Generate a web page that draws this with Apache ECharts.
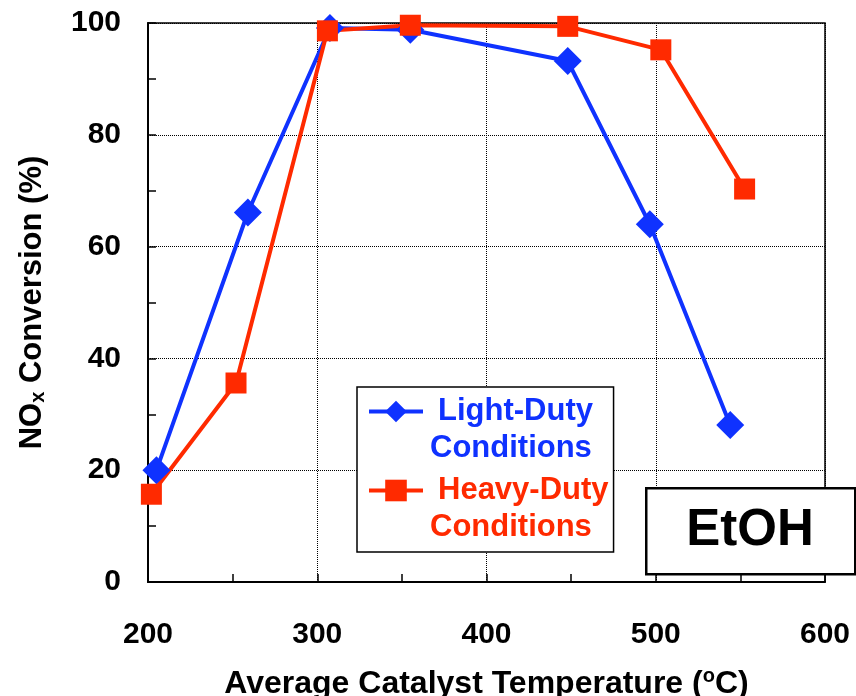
<!DOCTYPE html>
<html>
<head>
<meta charset="utf-8">
<script src="https://cdn.jsdelivr.net/npm/echarts@6/dist/echarts.min.js"></script>
<style>
  html, body { margin: 0; padding: 0; background: #fff; }
  #chart { width: 856px; height: 696px; }
</style>
</head>
<body>
<div id="chart"></div>
<script>
    // temperatures (°C) and NOx conversion (%)
    var lightTemp = [205, 259, 307.5, 355, 448, 496.5, 544];
    var lightConv = [20, 66.1, 99.1, 98.8, 93.2, 64.0, 28.1];
    var heavyTemp = [202, 252, 306, 355, 448, 503, 552.5];
    var heavyConv = [15.7, 35.6, 98.6, 99.6, 99.4, 95.2, 70.3];
    var seriesNames = ['Light-Duty', 'Heavy-Duty'];
    var blue = '#0f32ff';
    var red = '#ff2a00';
    var font = "'Liberation Sans', Arial, sans-serif";

    function pairs(xs, ys) {
        return xs.map(function (x, i) { return [x, ys[i]]; });
    }

    var myChart = echarts.init(document.getElementById('chart'), null, {renderer: 'canvas'});
    var option = {
        backgroundColor: '#fff',
        animation: false,
        grid: {
            left: 148, right: 31, top: 23, bottom: 114,
            outerBoundsMode: 'none', containLabel: false,
            show: true, borderColor: '#000', borderWidth: 1.5
        },
        legend: {
            orient: 'vertical',
            left: 357, top: 387,
            padding: [9, 5, 9, 10],
            itemGap: 11,
            itemWidth: 54, itemHeight: 27,
            borderColor: '#000', borderWidth: 1.5,
            backgroundColor: '#fff',
            lineStyle: {width: 4},
            data: seriesNames,
            formatter: function (name) {
                return '{a|' + name + '}\n{b|Conditions}';
            },
            textStyle: {
                color: 'inherit',
                fontFamily: font, fontWeight: 'bold', fontSize: 31,
                padding: [0, 0, -37, 0],
                rich: {
                    a: {fontFamily: font, fontWeight: 'bold', fontSize: 31, lineHeight: 37, padding: [0, 0, 0, 10], width: 168},
                    b: {fontFamily: font, fontWeight: 'bold', fontSize: 31, lineHeight: 37, padding: [0, 0, 0, 2], width: 176}
                }
            }
        },
        xAxis: {
            type: 'value', min: 200, max: 600, interval: 100,
            name: 'Average Catalyst Temperature ({sup|o}C)',
            nameLocation: 'middle', nameGap: 84,
            nameTextStyle: {
                fontFamily: font, fontWeight: 'bold', fontSize: 32, color: '#000',
                rich: {sup: {fontFamily: font, fontWeight: 'bold', fontSize: 20, verticalAlign: 'top', padding: [0, 0, 16, 0]}}
            },
            axisLine: {lineStyle: {color: '#000', width: 2}},
            axisTick: {inside: true, length: 8, lineStyle: {color: '#000', width: 1.5}},
            minorTick: {show: true, splitNumber: 2, length: 8, lineStyle: {color: '#000', width: 1.5}},
            axisLabel: {margin: 38, fontFamily: font, fontWeight: 'bold', fontSize: 30, color: '#000'},
            splitLine: {show: true, lineStyle: {color: '#000', type: 'dotted', width: 1}}
        },
        yAxis: {
            type: 'value', min: 0, max: 100, interval: 20,
            name: 'NO{sub|x} Conversion (%)',
            nameLocation: 'middle', nameGap: 100,
            nameTextStyle: {
                fontFamily: font, fontWeight: 'bold', fontSize: 31, color: '#000',
                rich: {sub: {fontFamily: font, fontWeight: 'bold', fontSize: 20, padding: [12, 0, 0, 0]}}
            },
            axisLine: {lineStyle: {color: '#000', width: 2}},
            axisTick: {inside: true, length: 8, lineStyle: {color: '#000', width: 1.5}},
            minorTick: {show: true, splitNumber: 2, length: 8, lineStyle: {color: '#000', width: 1.5}},
            axisLabel: {margin: 27, fontFamily: font, fontWeight: 'bold', fontSize: 30, color: '#000'},
            splitLine: {show: true, lineStyle: {color: '#000', type: 'dotted', width: 1}}
        },
        series: [
            {
                name: seriesNames[0], type: 'line',
                data: pairs(lightTemp, lightConv),
                symbol: 'diamond', symbolSize: 28,
                lineStyle: {color: blue, width: 4},
                itemStyle: {color: blue}
            },
            {
                name: seriesNames[1], type: 'line',
                data: pairs(heavyTemp, heavyConv),
                symbol: 'rect', symbolSize: 21,
                lineStyle: {color: red, width: 4},
                itemStyle: {color: red}
            }
        ],
        graphic: [
            {
                type: 'rect', left: 645, top: 487, z: 100,
                shape: {width: 209, height: 86},
                style: {fill: '#fff', stroke: '#000', lineWidth: 2.5}
            },
            {
                type: 'text', z: 101, x: 750, y: 531,
                style: {
                    text: 'EtOH', fill: '#000',
                    font: 'bold 51px ' + font,
                    textAlign: 'center', textVerticalAlign: 'middle'
                }
            }
        ]
    };
    myChart.setOption(option);
</script>
</body>
</html>
